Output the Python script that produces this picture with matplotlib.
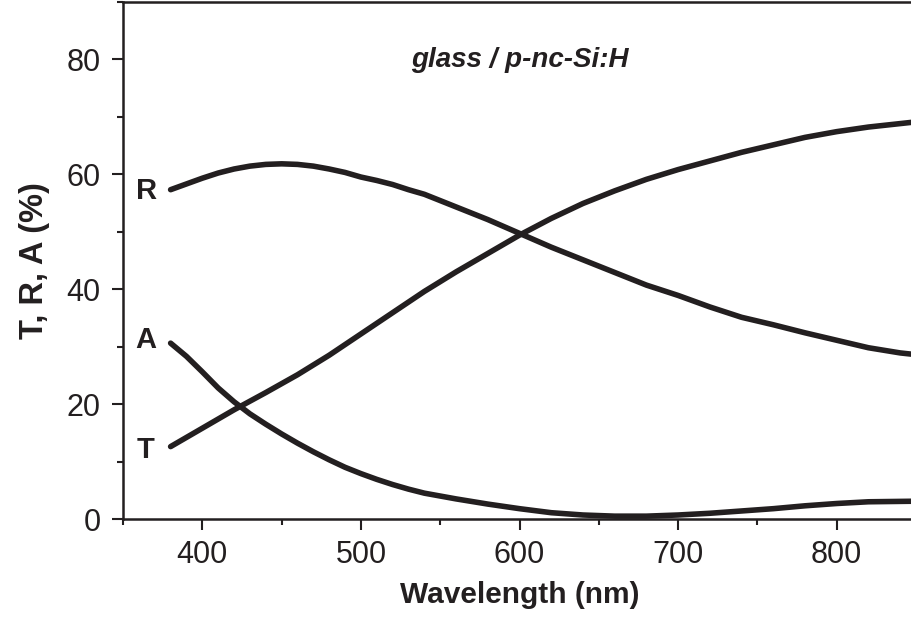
import matplotlib.pyplot as plt
from matplotlib.ticker import MultipleLocator

plt.rcParams['font.family'] = ['Liberation Sans', 'DejaVu Sans']

ink = '#231f20'

# wavelength (nm) and T, R, A (%)
wl_T = [380, 400, 420, 440, 460, 480, 500, 520, 540, 560, 580, 600,
        620, 640, 660, 680, 700, 720, 740, 760, 780, 800, 820, 850]
T = [12.6, 15.8, 19.0, 22.0, 25.1, 28.5, 32.2, 35.9, 39.6, 43.0, 46.2, 49.4,
     52.3, 54.9, 57.1, 59.1, 60.8, 62.3, 63.8, 65.1, 66.4, 67.4, 68.2, 69.1]

wl_R = [380, 390, 400, 410, 420, 430, 440, 450, 460, 470, 480, 490, 500,
        510, 520, 530, 540, 550, 560, 570, 580, 590, 600, 610, 620, 640,
        660, 680, 700, 720, 740, 760, 780, 800, 820, 840, 850]
R = [57.3, 58.3, 59.3, 60.2, 60.9, 61.4, 61.7, 61.8, 61.7, 61.4, 60.9, 60.3, 59.5,
     58.9, 58.2, 57.3, 56.5, 55.4, 54.3, 53.2, 52.1, 50.9, 49.7, 48.5, 47.3, 45.1,
     42.9, 40.7, 38.9, 36.9, 35.1, 33.8, 32.4, 31.1, 29.8, 28.9, 28.6]

wl_A = [380, 390, 400, 410, 420, 430, 440, 450, 460, 470, 480, 490, 500,
        510, 520, 530, 540, 560, 580, 600, 620, 640, 660, 680, 700, 720,
        740, 760, 780, 800, 820, 850]
A = [30.6, 28.3, 25.6, 22.8, 20.4, 18.3, 16.5, 14.8, 13.2, 11.7, 10.3, 9.0, 7.9,
     6.9, 6.0, 5.2, 4.5, 3.5, 2.6, 1.8, 1.1, 0.7, 0.5, 0.5, 0.7, 1.0,
     1.4, 1.8, 2.3, 2.7, 3.0, 3.1]

curve_names = ['R', 'A', 'T']
name_pos = [(365, 57.1), (364.5, 31.2), (364.5, 12.0)]

fig = plt.figure(figsize=(9.12, 6.23), dpi=100)
ax = fig.add_axes([0.1349, 0.1669, 0.8695, 0.8303])

for xs, ys in [(wl_T, T), (wl_R, R), (wl_A, A)]:
    ax.plot(xs, ys, color=ink, lw=4.0, solid_capstyle='round', solid_joinstyle='round')

for name, (x, y) in zip(curve_names, name_pos):
    ax.text(x, y, name, fontsize=21, fontweight='bold', color=ink, ha='center', va='center')

ax.text(600, 79.8, 'glass / p-nc-Si:H', fontsize=20, fontweight='bold', style='italic',
        color=ink, ha='center', va='center')

ax.set_xlim(350, 850)
ax.set_ylim(0, 90)
ax.xaxis.set_major_locator(MultipleLocator(100))
ax.xaxis.set_minor_locator(MultipleLocator(50))
ax.yaxis.set_major_locator(MultipleLocator(20))
ax.yaxis.set_minor_locator(MultipleLocator(10))
ax.set_xticks([400, 500, 600, 700, 800])

ax.tick_params(which='major', direction='out', length=8, width=1.5, color=ink,
               labelsize=22, labelcolor=ink, pad=7)
ax.tick_params(which='minor', direction='out', length=4, width=1.5, color=ink)
ax.tick_params(axis='y', which='major', pad=8)

ax.spines['right'].set_visible(False)
for s in ['left', 'bottom', 'top']:
    ax.spines[s].set_linewidth(1.8)
    ax.spines[s].set_color(ink)

ax.set_xlabel('Wavelength (nm)', fontsize=21.5, fontweight='bold', color=ink, labelpad=8)
ax.set_ylabel('T, R, A (%)', fontsize=23.5, fontweight='bold', color=ink, labelpad=12)

fig.savefig('out.png', dpi=100)
